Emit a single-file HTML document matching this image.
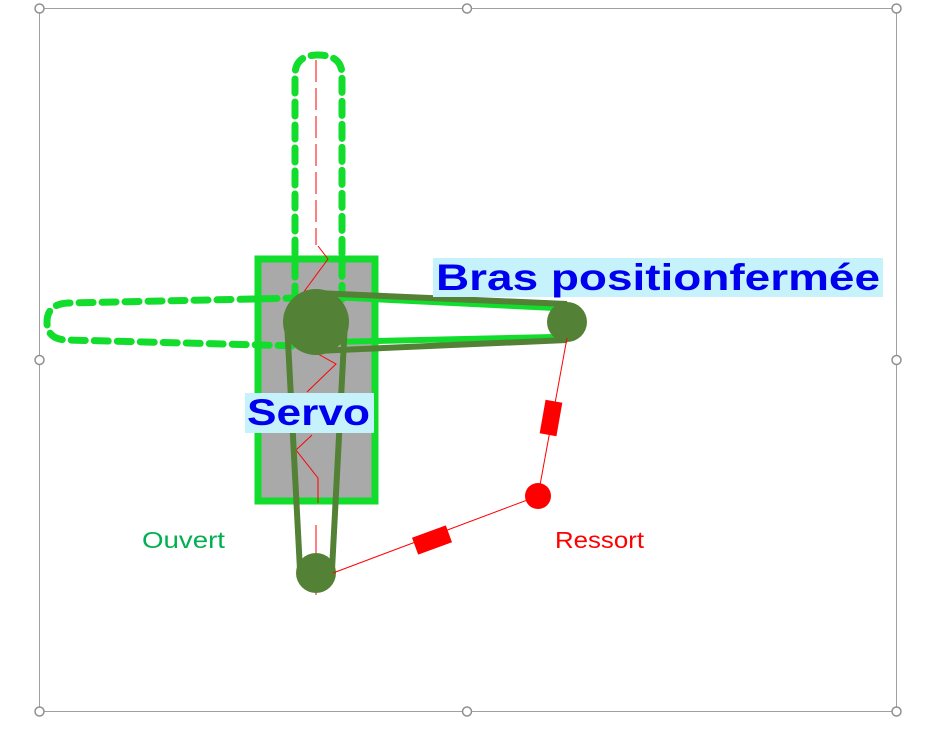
<!DOCTYPE html>
<html><head><meta charset="utf-8"><style>
html,body{margin:0;padding:0;background:#fff;width:929px;height:729px;overflow:hidden}
svg{display:block}
</style></head><body>
<svg width="929" height="729" viewBox="0 0 929 729" xmlns="http://www.w3.org/2000/svg">
<rect x="39.5" y="8.5" width="857" height="703" fill="none" stroke="#a0a0a0" stroke-width="1"/>
<g fill="#fff" stroke="#909090" stroke-width="1.5">
<circle cx="39.5" cy="8.5" r="4.5"/><circle cx="467" cy="8.5" r="4.5"/><circle cx="896.5" cy="8.5" r="4.5"/>
<circle cx="39.5" cy="360" r="4.5"/><circle cx="896.5" cy="360" r="4.5"/>
<circle cx="39.5" cy="711.5" r="4.5"/><circle cx="467" cy="711.5" r="4.5"/><circle cx="896.5" cy="711.5" r="4.5"/>
</g>
<rect x="258" y="259" width="117" height="242" fill="#a9a9a9" stroke="#12dc2c" stroke-width="7"/>
<line x1="316" y1="60" x2="316" y2="245" stroke="#ff0000" stroke-width="1" stroke-dasharray="22,6"/>
<polyline points="318,246 328,259 303,293" fill="none" stroke="#f00" stroke-width="1"/>
<polyline points="318,354 336,364 307,392" fill="none" stroke="#f00" stroke-width="1"/>
<polyline points="312,435 296,450 318,478 318,503" fill="none" stroke="#f00" stroke-width="1"/>
<line x1="316" y1="525" x2="316" y2="595" stroke="#f00" stroke-width="1"/>
<path d="M295,300 L295,75 Q295,55 318,55 Q342,55 342,75 L342,300" fill="none" stroke="#12dc2c" stroke-width="7" stroke-dasharray="14,9" stroke-linecap="round"/>
<path d="M300,298 L68,303 Q47,304 47,322 Q47,340 68,340 L300,346" fill="none" stroke="#12dc2c" stroke-width="7" stroke-dasharray="14,9" stroke-linecap="round"/>
<line x1="330" y1="297" x2="555" y2="308" stroke="#12dc2c" stroke-width="6"/>
<line x1="330" y1="342" x2="555" y2="337" stroke="#12dc2c" stroke-width="6"/>
<g stroke="#538135" stroke-width="6" fill="none">
<line x1="316" y1="293" x2="567" y2="304"/>
<line x1="316" y1="351" x2="567" y2="340"/>
<line x1="287" y1="322" x2="300" y2="570"/>
<line x1="345" y1="322" x2="332" y2="570"/>
</g>
<circle cx="316" cy="322" r="33" fill="#538135"/>
<circle cx="567" cy="322" r="20" fill="#538135"/>
<circle cx="316" cy="573" r="20" fill="#538135"/>
<line x1="567" y1="338" x2="538" y2="496" stroke="#f00" stroke-width="1"/>
<rect x="-8.5" y="-17" width="17" height="34" fill="#f00" transform="translate(551,418) rotate(10)"/>
<line x1="538" y1="496" x2="333" y2="573" stroke="#f00" stroke-width="1"/>
<rect x="-18" y="-9" width="36" height="18" fill="#f00" transform="translate(432,540) rotate(-20)"/>
<circle cx="538" cy="496" r="13" fill="#f00"/>
<rect x="433" y="258" width="450" height="39" fill="#c6f3fb"/>
<text x="436" y="290" font-family="Liberation Sans, sans-serif" font-weight="bold" font-size="37" fill="#0000ee" textLength="444" lengthAdjust="spacingAndGlyphs">Bras positionfermée</text>
<rect x="245" y="393" width="129" height="40" fill="#c6f3fb"/>
<text x="247" y="425" font-family="Liberation Sans, sans-serif" font-weight="bold" font-size="37" fill="#0000ee" textLength="123" lengthAdjust="spacingAndGlyphs">Servo</text>
<text x="142" y="548" font-family="Liberation Sans, sans-serif" font-size="23" fill="#00b050" textLength="83" lengthAdjust="spacingAndGlyphs">Ouvert</text>
<text x="555" y="548" font-family="Liberation Sans, sans-serif" font-size="23" fill="#ff0000" textLength="89" lengthAdjust="spacingAndGlyphs">Ressort</text>
</svg>
</body></html>
